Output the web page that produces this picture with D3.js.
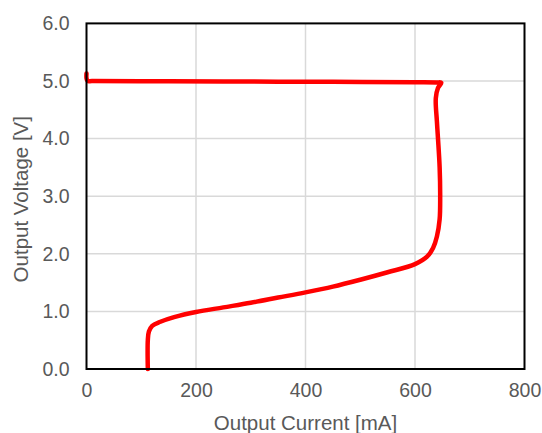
<!DOCTYPE html>
<html><head><meta charset="utf-8">
<script src="https://cdn.jsdelivr.net/npm/d3@7"></script>
<style>body{margin:0;background:#fff;}text{font-family:"Liberation Sans",Arial,sans-serif;}</style>
</head><body><svg id="c" width="542" height="433"></svg>
<script>
const currentMA = [112,112,114,120,135,160,200,250,300,350,400,450,500,550,600,622,633,640,645,646,645,642,640,638,642,648,640,600,450,300,150,10,2,0,0];
const voltageV  = [0.0,0.5,0.65,0.75,0.82,0.9,0.99,1.07,1.15,1.24,1.33,1.43,1.55,1.68,1.82,1.95,2.1,2.3,2.6,3.0,3.5,4.0,4.3,4.7,4.88,4.97,4.975,4.978,4.985,4.99,4.995,5.0,5.0,5.05,5.13];
const xTicks = [0,200,400,600,800];
const yTicks = [0,1,2,3,4,5,6];
const xTitle = "Output Current [mA]";
const yTitle = "Output Voltage [V]";

const svg = d3.select("#c");
const L=86.5,R=524.5,T=23.4,B=369;
const x = d3.scaleLinear().domain([0,800]).range([L,R]);
const y = d3.scaleLinear().domain([0,6]).range([B,T]);

const g = svg.append("g");
g.selectAll(".gx").data(xTicks.slice(1,-1)).join("line")
 .attr("x1",d=>x(d)).attr("x2",d=>x(d)).attr("y1",T).attr("y2",B)
 .attr("stroke","#d9d9d9").attr("stroke-width",1.5);
g.selectAll(".gy").data(yTicks.slice(1,-1)).join("line")
 .attr("y1",d=>y(d)).attr("y2",d=>y(d)).attr("x1",L).attr("x2",R)
 .attr("stroke","#d9d9d9").attr("stroke-width",1.5);

const xAxis = d3.axisBottom(x).tickValues(xTicks).tickFormat(d3.format("d")).tickSize(0).tickPadding(14);
const yAxis = d3.axisLeft(y).tickValues(yTicks).tickFormat(d3.format(".1f")).tickSize(0).tickPadding(17);
const ax = svg.append("g").attr("transform",`translate(0,${B})`).call(xAxis);
const ay = svg.append("g").attr("transform",`translate(${L},0)`).call(yAxis);
[ax,ay].forEach(a=>{a.select(".domain").remove();
 a.selectAll("text").attr("font-size",19.5).attr("fill","#595959").attr("font-family","Liberation Sans, Arial, sans-serif");});

const pts = currentMA.map((c,i)=>[c,voltageV[i]]);
svg.append("path").datum(pts)
 .attr("d",d3.line().x(d=>x(d[0])).y(d=>y(d[1])).curve(d3.curveCatmullRom.alpha(0.5)))
 .attr("fill","none").attr("stroke","#ff0000").attr("stroke-width",4.5)
 .attr("stroke-linejoin","round").attr("stroke-linecap","round");

svg.append("rect").attr("x",L).attr("y",T).attr("width",R-L).attr("height",B-T)
 .attr("fill","none").attr("stroke","#000").attr("stroke-width",2);

svg.append("text").attr("x",(L+R)/2).attr("y",430).attr("text-anchor","middle")
 .attr("font-size",20.5).attr("fill","#595959").text(xTitle);
svg.append("text").attr("transform",`translate(28,${(T+B)/2+3}) rotate(-90)`).attr("text-anchor","middle")
 .attr("font-size",20.5).attr("fill","#595959").text(yTitle);
</script></body></html>
